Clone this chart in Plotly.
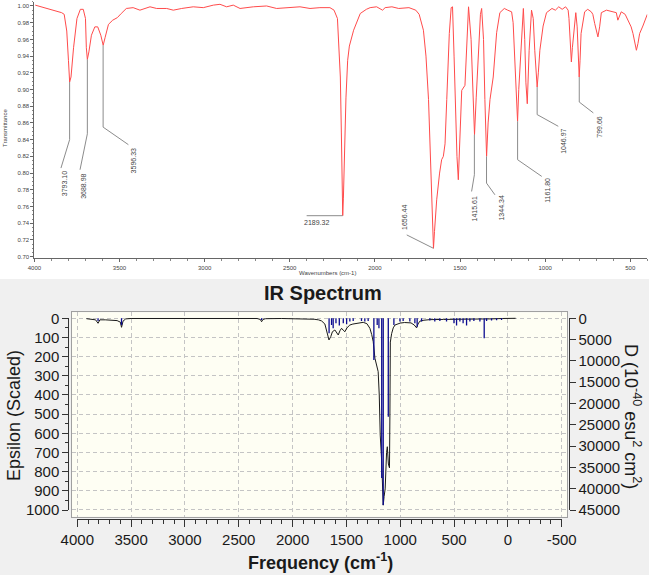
import plotly.graph_objects as go

W, H = 649, 575

# ---------------- data: experimental FT-IR (top) ----------------
wn_exp = [3995, 3960, 3923, 3900, 3864, 3840, 3825, 3810, 3800, 3793, 3785, 3770, 3750, 3730, 3713,
          3700, 3695, 3689, 3680, 3665, 3645, 3628, 3610, 3596, 3585, 3565, 3540, 3513, 3490, 3460,
          3420, 3380, 3321, 3282, 3223, 3184, 3135, 3067, 3008, 2949, 2910, 2871, 2832, 2792, 2714,
          2636, 2577, 2518, 2440, 2381, 2323, 2264, 2240, 2220, 2210, 2203, 2197, 2192, 2189, 2185,
          2178, 2170, 2160, 2150, 2125, 2086, 2050, 2028, 1990, 1955, 1940, 1900, 1860, 1800, 1760,
          1740, 1715, 1700, 1685, 1675, 1666, 1656, 1650, 1637, 1620, 1608, 1598, 1588, 1578, 1563,
          1552, 1544, 1535, 1529, 1518, 1510, 1500, 1490, 1471, 1462, 1455, 1450, 1435, 1422, 1415,
          1405, 1393, 1380, 1373, 1362, 1354, 1344, 1335, 1324, 1305, 1285, 1266, 1240, 1220, 1197,
          1188, 1178, 1168, 1162, 1155, 1145, 1138, 1128, 1120, 1113, 1105, 1099, 1094, 1080, 1070,
          1061, 1047, 1040, 1031, 1012, 992, 960, 940, 920, 900, 880, 865, 860, 855, 846,
          840, 832, 820, 812, 807, 800, 795, 789, 768, 750, 729, 720, 709, 690, 680,
          670, 640, 600, 582, 573, 553, 530, 514, 495, 484, 464, 455, 445, 426, 406, 400]
trans_exp = [1.001, 0.999, 0.997, 0.995, 0.993, 0.992, 0.990, 0.970, 0.935, 0.909, 0.915, 0.950, 0.985, 0.996, 0.996,
             0.985, 0.950, 0.936, 0.945, 0.965, 0.975, 0.975, 0.965, 0.953, 0.962, 0.978, 0.983, 0.986, 0.991, 0.997,
             0.998, 0.995, 0.999, 0.997, 0.997, 0.995, 0.997, 0.999, 0.998, 1.001, 1.002, 0.999, 1.001, 0.997, 0.999,
             1.000, 0.997, 0.998, 0.999, 0.997, 0.998, 0.998, 0.995, 0.985, 0.950, 0.915, 0.848, 0.780, 0.749, 0.770,
             0.830, 0.890, 0.935, 0.952, 0.971, 0.991, 0.996, 0.998, 0.999, 0.995, 0.998, 0.999, 0.997, 0.998, 0.995,
             0.990, 0.971, 0.940, 0.888, 0.830, 0.768, 0.710, 0.730, 0.768, 0.800, 0.816, 0.820, 0.835, 0.888, 0.967,
             0.998, 0.999, 0.940, 0.888, 0.820, 0.792, 0.840, 0.899, 0.905, 0.950, 0.995, 0.999, 0.960, 0.888, 0.846,
             0.890, 0.947, 0.990, 0.997, 0.960, 0.888, 0.820, 0.860, 0.888, 0.915, 0.968, 0.992, 0.997, 0.995, 0.993,
             0.980, 0.927, 0.880, 0.862, 0.900, 0.940, 0.960, 0.997, 0.960, 0.908, 0.883, 0.920, 0.947, 0.995, 0.985,
             0.947, 0.903, 0.920, 0.947, 0.976, 0.992, 0.997, 0.995, 0.999, 0.996, 0.999, 0.995, 0.985, 0.967, 0.933,
             0.950, 0.967, 0.992, 0.975, 0.947, 0.915, 0.935, 0.967, 0.993, 0.996, 0.993, 0.990, 0.979, 0.963, 0.975,
             0.992, 0.995, 0.993, 0.992, 0.983, 0.993, 0.990, 0.983, 0.975, 0.967, 0.947, 0.955, 0.967, 0.976, 0.987, 0.990]

peak_text = ["3793.10", "3688.98", "3596.33", "2189.32", "1656.44", "1415.61", "1344.34", "1161.80", "1046.97", "799.66"]
peak_wn = [3793.10, 3688.98, 3596.33, 2189.32, 1656.44, 1415.61, 1344.34, 1161.80, 1046.97, 799.66]
peak_T = [0.909, 0.936, 0.953, 0.749, 0.710, 0.846, 0.820, 0.862, 0.903, 0.915]

top_x_ticks = [4000, 3500, 3000, 2500, 2000, 1500, 1000, 500]
top_y_ticks = [0.70, 0.72, 0.74, 0.76, 0.78, 0.80, 0.82, 0.84, 0.86, 0.88, 0.90, 0.92, 0.94, 0.96, 0.98, 1.00]

# ---------------- data: calculated IR spectrum (bottom) ----------------
calc_freq = [3915, 3870, 3830, 3807, 3790, 3740, 3680, 3630, 3600, 3589, 3575, 3550, 3500, 3000, 2500,
             2330, 2300, 2288, 2275, 2250, 2100, 1900, 1800, 1760, 1730, 1700, 1680, 1662, 1645, 1630,
             1607, 1590, 1576, 1560, 1545, 1530, 1514, 1495, 1468, 1440, 1405, 1370, 1344, 1310, 1282,
             1265, 1251, 1235, 1220, 1205, 1195, 1186, 1173, 1165, 1158, 1150, 1140, 1127, 1120, 1110,
             1100, 1096, 1092, 1080, 1065, 1049, 1020, 1000, 960, 900, 870, 860, 848, 835, 818,
             780, 724, 600, 400, 300, 220, 150, 50, -72]
calc_eps = [2, 5, 8, 26, 8, 8, 10, 12, 20, 47, 15, 3, 1, 0, 0,
            1, 6, 18, 6, 2, 1, 2, 5, 8, 14, 30, 70, 113, 95, 70,
            61, 75, 87, 65, 52, 62, 70, 50, 35, 30, 26, 22, 21, 28, 52,
            85, 122, 209, 252, 278, 400, 609, 739, 900, 975, 930, 890, 700, 670, 760,
            780, 500, 124, 80, 50, 35, 28, 25, 22, 24, 35, 44, 50, 30, 15,
            10, 7, 6, 5, 4, 6, 3, 1, 0]

stick_freq = [3807, 3589, 2288, 1661, 1638, 1623, 1597, 1566, 1529, 1498, 1468, 1437, 1360, 1329, 1298,
              1245, 1214, 1198, 1172, 1158, 1111, 1059, 1003, 973, 911, 864, 843, 802, 725, 679,
              632, 570, 501, 477, 446, 416, 384, 353, 316, 260, 220, 198, 152, 105, 59]
stick_D = [630, 1575, 405, 3510, 1575, 2340, 1170, 1710, 1170, 1395, 765, 630, 630, 765, 630,
           9765, 1575, 2340, 37500, 43800, 23100, 1575, 765, 630, 765, 1170, 1980, 765, 540, 765,
           630, 765, 1170, 1710, 765, 1170, 1710, 765, 630, 765, 4680, 630, 540, 450, 400]

bot_x_ticks = [4000, 3500, 3000, 2500, 2000, 1500, 1000, 500, 0, -500]
eps_ticks = [0, 100, 200, 300, 400, 500, 600, 700, 800, 900, 1000]
D_ticks = [0, 5000, 10000, 15000, 20000, 25000, 30000, 35000, 40000, 45000]

# ---------------- style / layout helpers ----------------
def px(x):
    return x / W

def py(y):
    return 1 - y / H

# label geometry: (elbow T, line-end wn, line-end T, label wn, label T, angle, yanchor)
label_geom = [
    (0.840, 3844, 0.806, 3826, 0.804, -90, "top"),
    (0.847, 3732, 0.804, 3709, 0.802, -90, "top"),
    (0.855, 3448, 0.834, 3421, 0.8325, -90, "top"),
    (0.749, 2401, 0.749, 2342, 0.7475, 0, "top"),
    (0.710, 1813, 0.726, 1823, 0.729, -90, "bottom"),
    (0.798, 1432, 0.778, 1418, 0.775, -90, "top"),
    (0.788, 1295, 0.774, 1259, 0.775, -90, "top"),
    (0.816, 1020, 0.796, 991, 0.797, -90, "top"),
    (0.870, 923, 0.856, 894, 0.855, -90, "top"),
    (0.885, 717, 0.872, 678, 0.871, -90, "top"),
]

SANS = "Liberation Sans, Arial, sans-serif"
NARROW = "Liberation Sans Narrow, Arial Narrow, Liberation Sans, Arial, sans-serif"

fig = go.Figure()

fig.add_trace(go.Scatter(x=wn_exp, y=trans_exp, mode="lines",
                         line=dict(color="rgb(255,75,75)", width=1),
                         xaxis="x", yaxis="y", showlegend=False, hoverinfo="skip"))

fig.add_trace(go.Scatter(x=calc_freq, y=calc_eps, mode="lines",
                         line=dict(color="#1a1a1a", width=1),
                         xaxis="x2", yaxis="y2", showlegend=False, hoverinfo="skip"))

sx, sy = [], []
for f, d in zip(stick_freq, stick_D):
    sx += [f, f, None]
    sy += [0, d, None]
fig.add_trace(go.Scatter(x=sx, y=sy, mode="lines",
                         line=dict(color="#0c0c90", width=1.3),
                         xaxis="x2", yaxis="y3", showlegend=False, hoverinfo="skip"))

# invisible traces to materialise the detached tick axes
fig.add_trace(go.Scatter(x=[None], y=[None], xaxis="x4", yaxis="y4", showlegend=False))
fig.add_trace(go.Scatter(x=[None], y=[None], xaxis="x4", yaxis="y5", showlegend=False))

shapes = [
    dict(type="rect", xref="paper", yref="paper", x0=0, x1=1, y0=0, y1=py(279),
         fillcolor="#f0f0f0", line=dict(width=0), layer="below"),
    dict(type="rect", xref="x2 domain", yref="y2 domain", x0=0, x1=1, y0=0, y1=1,
         fillcolor="#fefef3", line=dict(width=0), layer="below"),
]
annotations = []
for i, txt in enumerate(peak_text):
    eT, ew, eTT, lw, lT, ang, ya = label_geom[i]
    w0, t0 = peak_wn[i], peak_T[i]
    shapes.append(dict(type="path", xref="x", yref="y",
                       path=f"M {w0},{t0} L {w0},{eT} L {ew},{eTT}",
                       line=dict(color="#8c8c8c", width=1)))
    annotations.append(dict(x=lw, y=lT, xref="x", yref="y", text=txt, showarrow=False,
                            textangle=ang, xanchor="center", yanchor=ya,
                            font=dict(family=SANS, size=7, color="#444")))

def label(x, y, text, size, angle=0):
    return dict(x=px(x), y=py(y), xref="paper", yref="paper", text=text, showarrow=False,
                textangle=angle, xanchor="center", yanchor="middle",
                font=dict(family=SANS, size=size, color="#1a1a1a" if size > 10 else "#444"))

annotations += [
    label(5, 128, "Transmittance", 6, -90),
    label(327, 273, "Wavenumbers (cm-1)", 6),
    label(323, 293, "<b>IR Spectrum</b>", 20),
    label(14, 416, "Epsilon (Scaled)", 18, -90),
    label(633, 416, "D (10<sup>-40</sup> esu<sup>2</sup> cm<sup>2</sup>)", 18, 90),
    label(320, 561, "<b>Frequency (cm<sup>-1</sup>)</b>", 18),
]

top_font = dict(family=SANS, size=6, color="#444")
bot_font = dict(family=NARROW, size=15, color="#1a1a1a")
GRID_DASH = "4px,3px"

fig.update_layout(
    width=W, height=H, margin=dict(l=0, r=0, t=0, b=0, pad=0, autoexpand=False),
    paper_bgcolor="white", plot_bgcolor="rgba(0,0,0,0)",
    shapes=shapes, annotations=annotations,
    xaxis=dict(domain=[px(34.4), px(647.3)], range=[4000, 400], anchor="y", automargin=False,
               tickvals=top_x_ticks, ticks="outside", ticklen=3, tickcolor="#666",
               minor=dict(dtick=100, ticklen=2, ticks="outside", tickcolor="#888"),
               showline=True, linecolor="#666", linewidth=1, showgrid=False, zeroline=False,
               tickfont=top_font),
    yaxis=dict(domain=[py(258.3), py(1.8)], range=[0.698, 1.005], anchor="x", automargin=False,
               tickvals=top_y_ticks, tickformat=".2f", ticks="outside", ticklen=3, tickcolor="#666",
               minor=dict(dtick=0.005, ticklen=1.5, ticks="outside", tickcolor="#888"),
               showline=True, linecolor="#666", linewidth=1, showgrid=False, zeroline=False,
               tickfont=top_font),
    xaxis2=dict(domain=[px(72), px(567)], range=[4049, -549], anchor="y2", automargin=False,
                tick0=0, dtick=500, showticklabels=False, ticks="",
                showgrid=True, gridcolor="#c4c4c4", griddash=GRID_DASH, gridwidth=1,
                showline=True, mirror=True, linecolor="#a0a0a0", zeroline=False),
    yaxis2=dict(domain=[py(516.7), py(312.3)], range=[1035, -31.3], anchor="x2", automargin=False,
                tick0=0, dtick=100, showticklabels=False, ticks="",
                showgrid=True, gridcolor="#c4c4c4", griddash=GRID_DASH, gridwidth=1,
                showline=True, mirror=True, linecolor="#a0a0a0", zeroline=False),
    yaxis3=dict(overlaying="y2", range=[1035 * 45, -31.3 * 45], visible=False, anchor="x2",
                automargin=False),
    xaxis4=dict(domain=[px(77.3), px(561.7)], range=[4000, -500], anchor="free", position=py(519),
                automargin=False,
                tickvals=bot_x_ticks, ticktext=[str(v) for v in bot_x_ticks],
                ticks="outside", ticklen=7, tickcolor="#333",
                minor=dict(dtick=100, ticklen=4, ticks="outside", tickcolor="#333"),
                showline=True, linecolor="#333", linewidth=1, showgrid=False, zeroline=False,
                tickfont=bot_font),
    yaxis4=dict(domain=[py(510), py(318.3)], range=[1000, 0], anchor="free", position=px(68.3),
                automargin=False,
                tickvals=eps_ticks, ticktext=[str(v) for v in eps_ticks],
                ticks="outside", ticklen=6, tickcolor="#333",
                minor=dict(dtick=50, ticklen=3, ticks="outside", tickcolor="#333"),
                showline=True, linecolor="#333", linewidth=1, showgrid=False, zeroline=False,
                tickfont=bot_font),
    yaxis5=dict(domain=[py(510), py(318.3)], range=[45000, 0], anchor="free", position=px(568.5),
                automargin=False, side="right", overlaying="y4",
                tickvals=D_ticks, ticktext=[str(v) for v in D_ticks],
                ticks="outside", ticklen=6, tickcolor="#333",
                showline=True, linecolor="#333", linewidth=1, showgrid=False, zeroline=False,
                tickfont=bot_font),
)

fig.write_html("out.html", config={"displayModeBar": False, "staticPlot": True},
               post_script="document.body.style.margin='0px';document.body.style.padding='0px';")
